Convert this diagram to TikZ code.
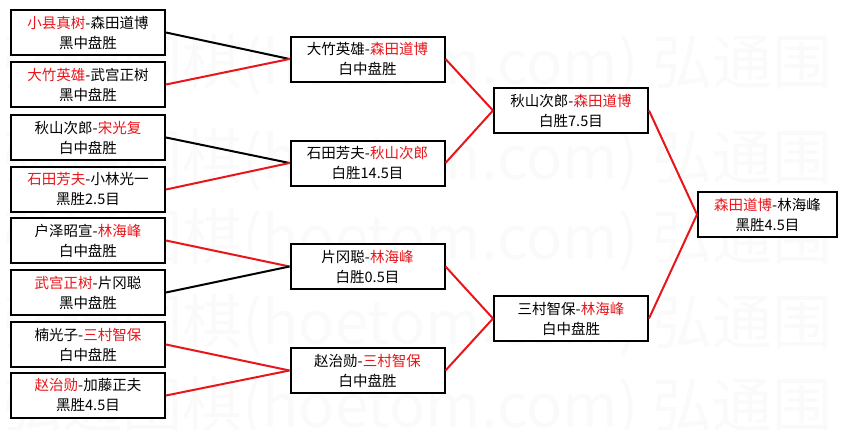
\documentclass[tikz,border=0pt]{standalone}
\usepackage{fontspec}
\setmainfont{Noto Sans CJK SC}
\definecolor{winred}{RGB}{232,22,26}
\newcommand{\win}[1]{\textcolor{winred}{#1}}
\begin{document}
\begin{tikzpicture}[x=1pt,y=-1pt,
  game/.style={draw,fill=white,line width=2pt,minimum width=154pt,minimum height=45pt,
    inner sep=0pt,align=center,font=\fontsize{14.5}{20}\selectfont},
  lost/.style={line width=2pt},
  won/.style={line width=2pt,winred},
  wmark/.style={anchor=west,inner sep=0pt,text=black!2,font=\fontsize{60}{60}\selectfont}]
 \useasboundingbox (0,0) rectangle (847,429);
 % watermark rows
 \begin{scope}
  \clip (0,0) rectangle (847,429);
  \node[wmark] (w1) at (2,65) {弘通围棋(hoetom.com) 弘通围};
  \node[wmark] (w2) at (2,160) {弘通围棋(hoetom.com) 弘通围};
  \node[wmark] (w3) at (2,240) {弘通围棋(hoetom.com) 弘通围};
  \node[wmark] (w4) at (2,325) {弘通围棋(hoetom.com) 弘通围};
  \node[wmark] (w5) at (2,408) {弘通围棋(hoetom.com) 弘通围};
 \end{scope}
 % first round
 \node[game] (m1) at (88,32.5) {\win{小县真树}-森田道博\\黑中盘胜};
 \node[game] (m2) at (88,84.5) {\win{大竹英雄}-武宫正树\\黑中盘胜};
 \node[game] (m3) at (88,137.5) {秋山次郎-\win{宋光复}\\白中盘胜};
 \node[game] (m4) at (88,189.5) {\win{石田芳夫}-小林光一\\黑胜2.5目};
 \node[game] (m5) at (88,240.5) {户泽昭宣-\win{林海峰}\\白中盘胜};
 \node[game] (m6) at (88,292.5) {\win{武宫正树}-片冈聪\\黑中盘胜};
 \node[game] (m7) at (88,344.5) {楠光子-\win{三村智保}\\白中盘胜};
 \node[game] (m8) at (88,395.5) {\win{赵治勋}-加藤正夫\\黑胜4.5目};
 % quarter finals
 \node[game] (q1) at (367.5,59) {大竹英雄-\win{森田道博}\\白中盘胜};
 \node[game] (q2) at (367.5,163) {石田芳夫-\win{秋山次郎}\\白胜14.5目};
 \node[game] (q3) at (367.5,266.5) {片冈聪-\win{林海峰}\\白胜0.5目};
 \node[game] (q4) at (367.5,370.5) {赵治勋-\win{三村智保}\\白中盘胜};
 % semi finals
 \node[game] (s1) at (571,110.5) {秋山次郎-\win{森田道博}\\白胜7.5目};
 \node[game] (s2) at (571,318.5) {三村智保-\win{林海峰}\\白中盘胜};
 % final
 \node[game,minimum width=139pt] (f) at (767.5,214.5) {\win{森田道博}-林海峰\\黑胜4.5目};
 \draw[lost] (m1.east) -- (q1.west);
 \draw[won] (m2.east) -- (q1.west);
 \draw[lost] (m3.east) -- (q2.west);
 \draw[won] (m4.east) -- (q2.west);
 \draw[won] (m5.east) -- (q3.west);
 \draw[lost] (m6.east) -- (q3.west);
 \draw[won] (m7.east) -- (q4.west);
 \draw[won] (m8.east) -- (q4.west);
 \draw[won] (q1.east) -- (s1.west);
 \draw[won] (q2.east) -- (s1.west);
 \draw[won] (q3.east) -- (s2.west);
 \draw[won] (q4.east) -- (s2.west);
 \draw[won] (s1.east) -- (f.west);
 \draw[won] (s2.east) -- (f.west);
\end{tikzpicture}
\end{document}
